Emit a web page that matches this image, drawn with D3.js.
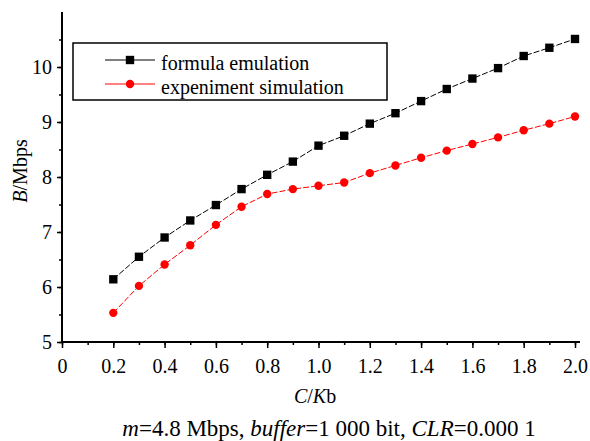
<!DOCTYPE html>
<html>
<head>
<meta charset="utf-8">
<script src="https://cdn.jsdelivr.net/npm/d3@7.9.0/dist/d3.min.js"></script>
<style>
  body { margin: 0; background: #fff; }
</style>
</head>
<body>
<svg width="590" height="441"></svg>
<script>
// Data
const capacity = [0.2, 0.3, 0.4, 0.5, 0.6, 0.7, 0.8, 0.9, 1.0, 1.1, 1.2, 1.3, 1.4, 1.5, 1.6, 1.7, 1.8, 1.9, 2.0];
const formulaEmulation = [6.14, 6.55, 6.90, 7.21, 7.49, 7.78, 8.04, 8.28, 8.57, 8.75, 8.97, 9.16, 9.38, 9.60, 9.79, 9.98, 10.20, 10.35, 10.51];
const experimentSimulation = [5.53, 6.02, 6.41, 6.76, 7.13, 7.46, 7.69, 7.78, 7.84, 7.90, 8.07, 8.21, 8.35, 8.48, 8.60, 8.72, 8.85, 8.97, 9.10];
const xTicks = [0, 0.2, 0.4, 0.6, 0.8, 1.0, 1.2, 1.4, 1.6, 1.8, 2.0];
const yTicks = [5, 6, 7, 8, 9, 10];
const seriesNames = ["formula emulation", "expeniment simulation"];

const FONT = "'Liberation Serif', 'Times New Roman', serif";
const svg = d3.select("svg");

// Scales
const x = d3.scaleLinear().domain([0, 2.0]).range([62, 575]);
const y = d3.scaleLinear().domain([5, 11]).range([342, 12]);

// Axes: minor ticks first, then labelled major ticks
const xMinor = d3.range(0, 2.01, 0.1);
const yMinor = d3.range(5, 10.51, 0.5);

svg.append("g")
  .attr("transform", "translate(0,342)")
  .call(d3.axisBottom(x).tickValues(xMinor).tickSize(3).tickFormat(""))
  .call(g => g.select(".domain").remove())
  .call(g => g.selectAll("line").attr("stroke-width", 1.5));

const xAxis = svg.append("g")
  .attr("transform", "translate(0,342)")
  .call(d3.axisBottom(x).tickValues(xTicks).tickSize(6).tickPadding(11)
    .tickSizeOuter(0).tickFormat(d => d === 0 ? "0" : d3.format(".1f")(d)));
xAxis.select(".domain").attr("stroke-width", 2).attr("d", "M61,0H580");
xAxis.selectAll("line").attr("stroke-width", 1.5);
xAxis.selectAll("text").attr("fill", "#000")
  .style("font-family", FONT).style("font-size", "20px");

svg.append("g")
  .attr("transform", "translate(62,0)")
  .call(d3.axisLeft(y).tickValues(yMinor).tickSize(3).tickFormat(""))
  .call(g => g.select(".domain").remove())
  .call(g => g.selectAll("line").attr("stroke-width", 1.5));

const yAxis = svg.append("g")
  .attr("transform", "translate(62,0)")
  .call(d3.axisLeft(y).tickValues(yTicks).tickSize(5).tickPadding(5)
    .tickSizeOuter(0).tickFormat(d3.format("d")));
yAxis.select(".domain").attr("stroke-width", 2).attr("d", "M0,343V12");
yAxis.selectAll("line").attr("stroke-width", 1.5);
yAxis.selectAll("text").attr("fill", "#000")
  .style("font-family", FONT).style("font-size", "20px");

// Series
const series = [
  { name: seriesNames[0], values: formulaEmulation, color: "#000", symbol: d3.symbolSquare, size: 70 },
  { name: seriesNames[1], values: experimentSimulation, color: "#f00", symbol: d3.symbolCircle, size: 55 }
];

const line = d3.line()
  .x(d => x(d[0]))
  .y(d => y(d[1]));

series.forEach(s => {
  const pts = capacity.map((c, i) => [c, s.values[i]]);
  svg.append("path")
    .datum(pts)
    .attr("d", line)
    .attr("fill", "none")
    .attr("stroke", s.color)
    .attr("stroke-width", 1)
    .attr("stroke-dasharray", "6,2");
  svg.append("g")
    .selectAll("path")
    .data(pts)
    .join("path")
    .attr("transform", d => `translate(${x(d[0])},${y(d[1])})`)
    .attr("d", d3.symbol().type(s.symbol).size(s.size))
    .attr("fill", s.color);
});

// Legend
const legend = svg.append("g");
legend.append("rect")
  .attr("x", 73).attr("y", 43).attr("width", 314).attr("height", 57)
  .attr("fill", "#fff").attr("stroke", "#000").attr("stroke-width", 1.5);

series.forEach((s, i) => {
  const ly = 60 + i * 24;
  legend.append("line")
    .attr("x1", 105).attr("x2", 155).attr("y1", ly).attr("y2", ly)
    .attr("stroke", s.color).attr("stroke-width", 1);
  legend.append("path")
    .attr("transform", `translate(130,${ly})`)
    .attr("d", d3.symbol().type(s.symbol).size(s.size))
    .attr("fill", s.color);
  legend.append("text")
    .attr("x", 161).attr("y", ly + 10)
    .style("font-family", FONT).style("font-size", "20px")
    .text(s.name);
});

// Axis titles
const yTitle = svg.append("text")
  .attr("transform", "translate(27,171) rotate(-90)")
  .attr("text-anchor", "middle")
  .style("font-family", FONT).style("font-size", "20px");
yTitle.append("tspan").attr("font-style", "italic").text("B");
yTitle.append("tspan").text("/Mbps");

const xTitle = svg.append("text")
  .attr("x", 315).attr("y", 403)
  .attr("text-anchor", "middle")
  .style("font-family", FONT).style("font-size", "20px");
xTitle.append("tspan").attr("font-style", "italic").text("C");
xTitle.append("tspan").text("/");
xTitle.append("tspan").attr("font-style", "italic").text("K");
xTitle.append("tspan").text("b");

// Caption
const caption = svg.append("text")
  .attr("x", 329).attr("y", 436)
  .attr("text-anchor", "middle")
  .style("font-family", FONT).style("font-size", "23px");
[["m", true], ["=4.8 Mbps, ", false], ["buffer", true], ["=1 000 bit, ", false], ["CLR", true], ["=0.000 1", false]]
  .forEach(([t, it]) => caption.append("tspan").attr("font-style", it ? "italic" : null).text(t));
</script>
</body>
</html>
